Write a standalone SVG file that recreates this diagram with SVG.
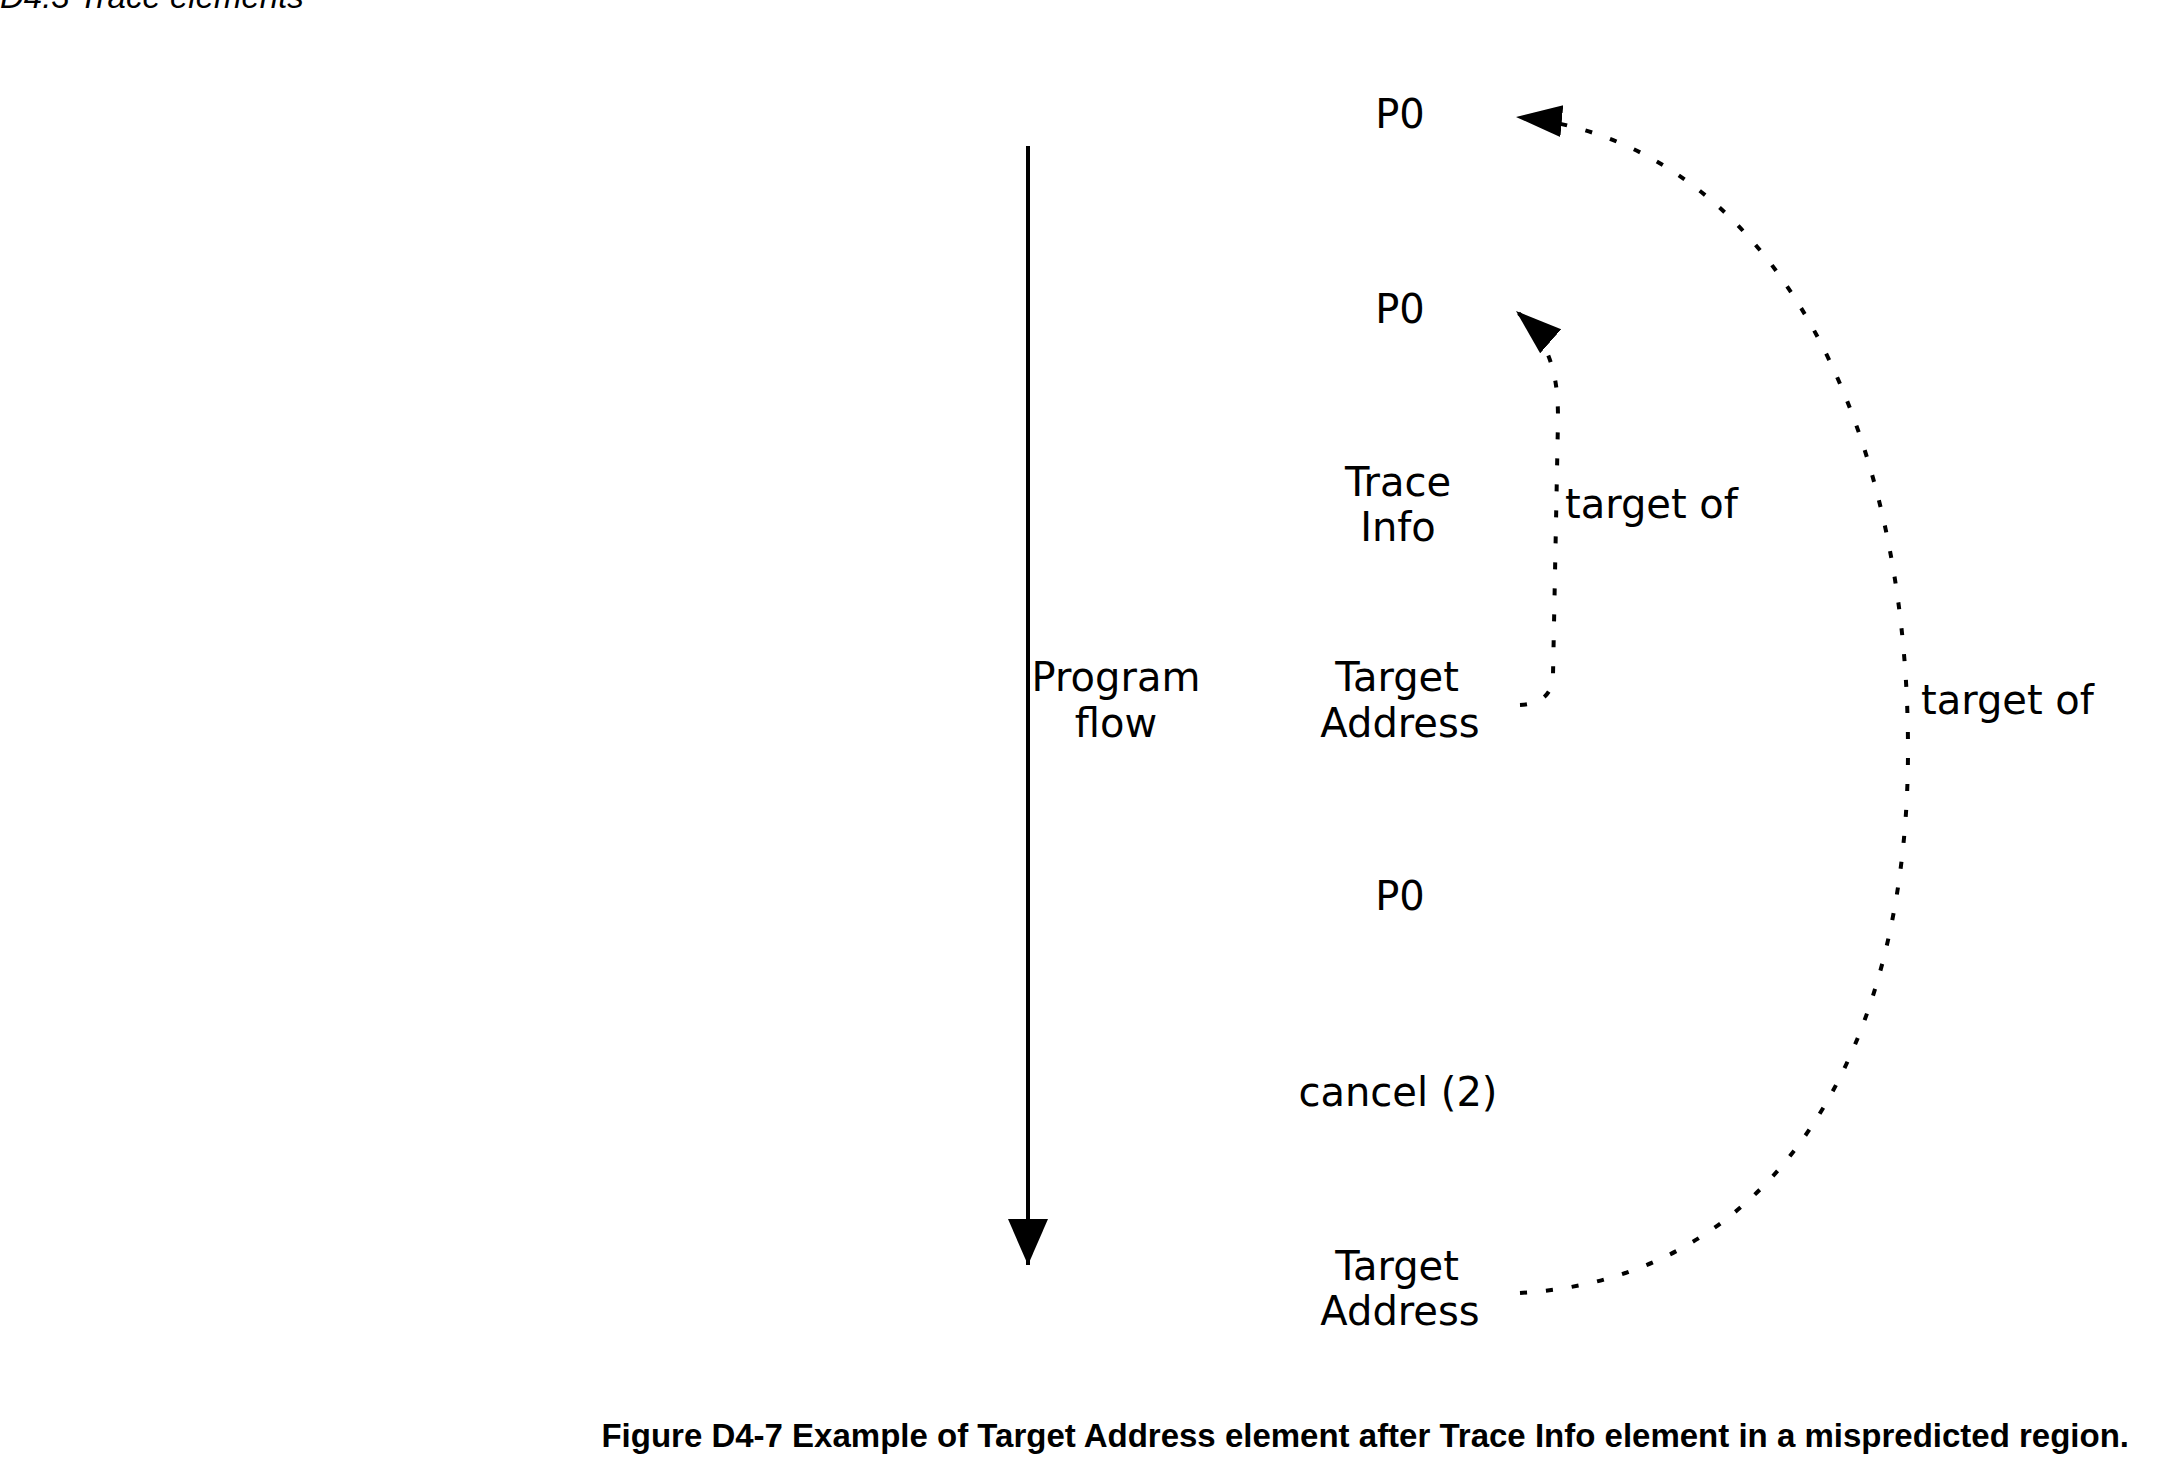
<svg xmlns="http://www.w3.org/2000/svg" width="2159" height="1480" viewBox="0 0 2159 1480">
<style>
.t{font-family:"DejaVu Sans",sans-serif;font-size:40px;fill:#000;text-anchor:middle}
.l{font-family:"DejaVu Sans",sans-serif;font-size:40px;fill:#000}
.d{fill:none;stroke:#000;stroke-width:4;stroke-dasharray:7 19}
</style>
<defs>
<marker id="ah" markerUnits="userSpaceOnUse" markerWidth="50" markerHeight="40" refX="46" refY="20" orient="auto"><path d="M0,0 L46,20 L0,40 Z" fill="#000"/></marker>
<marker id="ad" markerUnits="userSpaceOnUse" markerWidth="50" markerHeight="40" refX="46" refY="16" orient="auto"><path d="M0,0 L46,16 L0,32 Z" fill="#000"/></marker>
</defs>
<rect width="2159" height="1480" fill="#fff"/>
<text x="0" y="8" font-family="Liberation Sans,sans-serif" font-style="italic" font-size="33">D4.3 Trace elements</text>
<g id="connectors">
<line x1="1028" y1="146" x2="1028" y2="1265" stroke="#000" stroke-width="4" marker-end="url(#ah)"/>
<path class="d" d="M1520,705 C1540,704 1553,695 1553,675 L1558,420 C1558,385 1555,345 1516,311" marker-end="url(#ad)"/>
<path class="d" d="M1520,1293 C1780,1278 1908,1045 1908,750 C1908,420 1770,140 1516,117" marker-end="url(#ad)"/>
</g>
<g id="n1"><text class="t" x="1400" y="128">P0</text></g>
<g id="n2"><text class="t" x="1400" y="323">P0</text></g>
<g id="n3"><text class="t" x="1398" y="496">Trace</text><text class="t" x="1398" y="541">Info</text></g>
<g id="n4"><text class="t" x="1397" y="691">Target</text><text class="t" x="1400" y="737">Address</text></g>
<g id="flow"><text class="t" x="1116" y="691">Program</text><text class="t" x="1116" y="737">flow</text></g>
<g id="n5"><text class="t" x="1400" y="910">P0</text></g>
<g id="n6"><text class="t" x="1398" y="1106">cancel (2)</text></g>
<g id="n7"><text class="t" x="1397" y="1280">Target</text><text class="t" x="1400" y="1325">Address</text></g>
<text class="l" x="1565" y="518">target of</text>
<text class="l" x="1921" y="714">target of</text>
<text x="2129" y="1447" text-anchor="end" font-family="Liberation Sans,sans-serif" font-weight="bold" font-size="33">Figure D4-7 Example of Target Address element after Trace Info element in a mispredicted region.</text>
</svg>
